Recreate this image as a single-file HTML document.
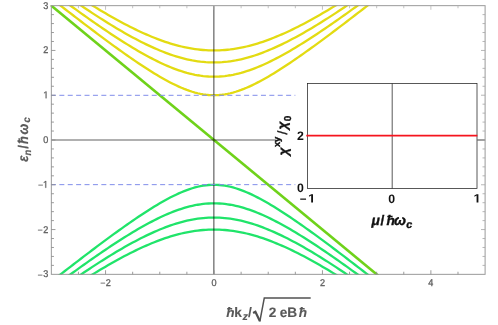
<!DOCTYPE html>
<html><head><meta charset="utf-8"><title>plot</title>
<style>
html,body{margin:0;padding:0;background:#fff;}
svg{display:block;}
text{font-family:"Liberation Sans",sans-serif;text-rendering:geometricPrecision;}
</style></head><body>
<svg width="498" height="325" viewBox="0 0 498 325">
<rect width="498" height="325" fill="#fff"/>
<defs><clipPath id="c"><rect x="50.44" y="5.16" width="435.56" height="269.78"/></clipPath></defs>

<g stroke="#626262" stroke-width="1.2" fill="none">
<line x1="213.85" y1="5.66" x2="213.85" y2="274.34"/>
<line x1="51.34" y1="140.0" x2="276" y2="140.0"/>
<line x1="477.3" y1="140.0" x2="485.10" y2="140.0"/>
</g>
<g clip-path="url(#c)" fill="none" stroke-linejoin="round" style="mix-blend-mode:multiply">
<path d="M40.50,-10.13 L43.21,-7.99 L45.92,-5.86 L48.63,-3.73 L51.34,-1.61 L54.05,0.52 L56.76,2.63 L59.47,4.75 L62.18,6.86 L64.89,8.97 L67.61,11.07 L70.32,13.17 L73.03,15.26 L75.74,17.34 L78.45,19.43 L81.16,21.50 L83.87,23.57 L86.58,25.64 L89.29,27.69 L92.00,29.74 L94.72,31.78 L97.43,33.82 L100.14,35.84 L102.85,37.86 L105.56,39.87 L108.27,41.87 L110.98,43.85 L113.69,45.83 L116.40,47.79 L119.11,49.74 L121.83,51.68 L124.54,53.60 L127.25,55.51 L129.96,57.40 L132.67,59.27 L135.38,61.12 L138.09,62.96 L140.80,64.77 L143.51,66.56 L146.22,68.32 L148.94,70.05 L151.65,71.76 L154.36,73.43 L157.07,75.07 L159.78,76.67 L162.49,78.23 L165.20,79.75 L167.91,81.23 L170.62,82.65 L173.33,84.02 L176.05,85.34 L178.76,86.59 L181.47,87.78 L184.18,88.89 L186.89,89.93 L189.60,90.89 L192.31,91.77 L195.02,92.56 L197.73,93.25 L200.44,93.84 L203.16,94.33 L205.87,94.72 L208.58,95.00 L211.29,95.16 L214.00,95.22 L216.71,95.16 L219.42,95.00 L222.13,94.72 L224.84,94.33 L227.55,93.84 L230.27,93.25 L232.98,92.56 L235.69,91.77 L238.40,90.89 L241.11,89.93 L243.82,88.89 L246.53,87.78 L249.24,86.59 L251.95,85.34 L254.66,84.03 L257.38,82.65 L260.09,81.23 L262.80,79.75 L265.51,78.23 L268.22,76.67 L270.93,75.07 L273.64,73.43 L276.35,71.76 L279.06,70.05 L281.77,68.32 L284.49,66.56 L287.20,64.77 L289.91,62.96 L292.62,61.12 L295.33,59.27 L298.04,57.40 L300.75,55.51 L303.46,53.60 L306.17,51.68 L308.88,49.74 L311.60,47.79 L314.31,45.83 L317.02,43.85 L319.73,41.87 L322.44,39.87 L325.15,37.86 L327.86,35.84 L330.57,33.82 L333.28,31.78 L335.99,29.74 L338.71,27.69 L341.42,25.64 L344.13,23.57 L346.84,21.50 L349.55,19.43 L352.26,17.34 L354.97,15.26 L357.68,13.17 L360.39,11.07 L363.10,8.97 L365.82,6.86 L368.53,4.75 L371.24,2.63 L373.95,0.52 L376.66,-1.61 L379.37,-3.73 L382.08,-5.86 L384.79,-7.99 L387.50,-10.13" stroke="#e3db12" stroke-width="2.3"/>
<path d="M40.50,-16.67 L43.21,-14.62 L45.92,-12.58 L48.63,-10.55 L51.34,-8.52 L54.05,-6.50 L56.76,-4.48 L59.47,-2.47 L62.18,-0.47 L64.89,1.53 L67.61,3.51 L70.32,5.49 L73.03,7.46 L75.74,9.43 L78.45,11.38 L81.16,13.32 L83.87,15.26 L86.58,17.18 L89.29,19.09 L92.00,21.00 L94.72,22.89 L97.43,24.76 L100.14,26.63 L102.85,28.48 L105.56,30.31 L108.27,32.13 L110.98,33.94 L113.69,35.72 L116.40,37.49 L119.11,39.24 L121.83,40.98 L124.54,42.69 L127.25,44.38 L129.96,46.04 L132.67,47.68 L135.38,49.30 L138.09,50.89 L140.80,52.45 L143.51,53.98 L146.22,55.48 L148.94,56.95 L151.65,58.38 L154.36,59.77 L157.07,61.12 L159.78,62.44 L162.49,63.71 L165.20,64.94 L167.91,66.11 L170.62,67.24 L173.33,68.32 L176.05,69.34 L178.76,70.30 L181.47,71.21 L184.18,72.05 L186.89,72.83 L189.60,73.54 L192.31,74.19 L195.02,74.76 L197.73,75.26 L200.44,75.69 L203.16,76.04 L205.87,76.32 L208.58,76.51 L211.29,76.63 L214.00,76.67 L216.71,76.63 L219.42,76.51 L222.13,76.32 L224.84,76.04 L227.55,75.69 L230.27,75.26 L232.98,74.76 L235.69,74.19 L238.40,73.54 L241.11,72.83 L243.82,72.05 L246.53,71.21 L249.24,70.30 L251.95,69.34 L254.66,68.32 L257.38,67.24 L260.09,66.11 L262.80,64.94 L265.51,63.71 L268.22,62.44 L270.93,61.12 L273.64,59.77 L276.35,58.38 L279.06,56.95 L281.77,55.48 L284.49,53.98 L287.20,52.45 L289.91,50.89 L292.62,49.30 L295.33,47.68 L298.04,46.04 L300.75,44.38 L303.46,42.69 L306.17,40.98 L308.88,39.25 L311.60,37.49 L314.31,35.72 L317.02,33.94 L319.73,32.13 L322.44,30.31 L325.15,28.48 L327.86,26.63 L330.57,24.76 L333.28,22.89 L335.99,21.00 L338.71,19.09 L341.42,17.18 L344.13,15.26 L346.84,13.32 L349.55,11.38 L352.26,9.43 L354.97,7.46 L357.68,5.49 L360.39,3.51 L363.10,1.53 L365.82,-0.47 L368.53,-2.47 L371.24,-4.48 L373.95,-6.50 L376.66,-8.52 L379.37,-10.55 L382.08,-12.58 L384.79,-14.62 L387.50,-16.67" stroke="#e3db12" stroke-width="2.3"/>
<path d="M40.50,-22.94 L43.21,-20.97 L45.92,-19.02 L48.63,-17.07 L51.34,-15.12 L54.05,-13.19 L56.76,-11.26 L59.47,-9.34 L62.18,-7.43 L64.89,-5.54 L67.61,-3.65 L70.32,-1.77 L73.03,0.10 L75.74,1.96 L78.45,3.81 L81.16,5.64 L83.87,7.46 L86.58,9.27 L89.29,11.07 L92.00,12.85 L94.72,14.62 L97.43,16.37 L100.14,18.10 L102.85,19.82 L105.56,21.52 L108.27,23.21 L110.98,24.87 L113.69,26.52 L116.40,28.14 L119.11,29.74 L121.83,31.32 L124.54,32.88 L127.25,34.41 L129.96,35.92 L132.67,37.40 L135.38,38.85 L138.09,40.27 L140.80,41.66 L143.51,43.02 L146.22,44.35 L148.94,45.64 L151.65,46.90 L154.36,48.12 L157.07,49.30 L159.78,50.44 L162.49,51.54 L165.20,52.59 L167.91,53.60 L170.62,54.57 L173.33,55.48 L176.05,56.34 L178.76,57.16 L181.47,57.92 L184.18,58.62 L186.89,59.27 L189.60,59.86 L192.31,60.40 L195.02,60.87 L197.73,61.28 L200.44,61.63 L203.16,61.92 L205.87,62.15 L208.58,62.31 L211.29,62.41 L214.00,62.44 L216.71,62.41 L219.42,62.31 L222.13,62.15 L224.84,61.92 L227.55,61.64 L230.27,61.28 L232.98,60.87 L235.69,60.40 L238.40,59.86 L241.11,59.27 L243.82,58.62 L246.53,57.92 L249.24,57.16 L251.95,56.34 L254.66,55.48 L257.38,54.57 L260.09,53.60 L262.80,52.59 L265.51,51.54 L268.22,50.44 L270.93,49.30 L273.64,48.12 L276.35,46.90 L279.06,45.64 L281.77,44.35 L284.49,43.02 L287.20,41.66 L289.91,40.27 L292.62,38.85 L295.33,37.40 L298.04,35.92 L300.75,34.41 L303.46,32.88 L306.17,31.32 L308.88,29.74 L311.60,28.14 L314.31,26.52 L317.02,24.87 L319.73,23.21 L322.44,21.52 L325.15,19.82 L327.86,18.10 L330.57,16.37 L333.28,14.62 L335.99,12.85 L338.71,11.07 L341.42,9.27 L344.13,7.46 L346.84,5.64 L349.55,3.81 L352.26,1.96 L354.97,0.10 L357.68,-1.77 L360.39,-3.65 L363.10,-5.53 L365.82,-7.43 L368.53,-9.34 L371.24,-11.26 L373.95,-13.19 L376.66,-15.12 L379.37,-17.07 L382.08,-19.02 L384.79,-20.97 L387.50,-22.94" stroke="#e3db12" stroke-width="2.3"/>
<path d="M40.50,-28.98 L43.21,-27.09 L45.92,-25.20 L48.63,-23.32 L51.34,-21.46 L54.05,-19.60 L56.76,-17.75 L59.47,-15.91 L62.18,-14.08 L64.89,-12.27 L67.61,-10.46 L70.32,-8.67 L73.03,-6.89 L75.74,-5.12 L78.45,-3.37 L81.16,-1.62 L83.87,0.10 L86.58,1.82 L89.29,3.51 L92.00,5.19 L94.72,6.86 L97.43,8.51 L100.14,10.14 L102.85,11.75 L105.56,13.34 L108.27,14.92 L110.98,16.47 L113.69,18.00 L116.40,19.51 L119.11,21.00 L121.83,22.46 L124.54,23.90 L127.25,25.31 L129.96,26.69 L132.67,28.05 L135.38,29.38 L138.09,30.68 L140.80,31.95 L143.51,33.18 L146.22,34.39 L148.94,35.56 L151.65,36.69 L154.36,37.79 L157.07,38.85 L159.78,39.87 L162.49,40.85 L165.20,41.79 L167.91,42.69 L170.62,43.54 L173.33,44.35 L176.05,45.11 L178.76,45.83 L181.47,46.50 L184.18,47.12 L186.89,47.68 L189.60,48.20 L192.31,48.67 L195.02,49.08 L197.73,49.44 L200.44,49.74 L203.16,49.99 L205.87,50.19 L208.58,50.33 L211.29,50.41 L214.00,50.44 L216.71,50.41 L219.42,50.33 L222.13,50.19 L224.84,49.99 L227.55,49.74 L230.27,49.44 L232.98,49.08 L235.69,48.67 L238.40,48.20 L241.11,47.68 L243.82,47.12 L246.53,46.50 L249.24,45.83 L251.95,45.11 L254.66,44.35 L257.38,43.54 L260.09,42.69 L262.80,41.79 L265.51,40.85 L268.22,39.87 L270.93,38.85 L273.64,37.79 L276.35,36.69 L279.06,35.56 L281.77,34.39 L284.49,33.18 L287.20,31.95 L289.91,30.68 L292.62,29.38 L295.33,28.05 L298.04,26.69 L300.75,25.31 L303.46,23.90 L306.17,22.46 L308.88,21.00 L311.60,19.51 L314.31,18.00 L317.02,16.47 L319.73,14.92 L322.44,13.34 L325.15,11.75 L327.86,10.14 L330.57,8.51 L333.28,6.86 L335.99,5.19 L338.71,3.51 L341.42,1.82 L344.13,0.10 L346.84,-1.62 L349.55,-3.37 L352.26,-5.12 L354.97,-6.89 L357.68,-8.67 L360.39,-10.46 L363.10,-12.27 L365.82,-14.08 L368.53,-15.91 L371.24,-17.75 L373.95,-19.60 L376.66,-21.46 L379.37,-23.32 L382.08,-25.20 L384.79,-27.09 L387.50,-28.98" stroke="#e3db12" stroke-width="2.3"/>
<path d="M40.50,290.13 L43.21,287.99 L45.92,285.86 L48.63,283.73 L51.34,281.61 L54.05,279.48 L56.76,277.37 L59.47,275.25 L62.18,273.14 L64.89,271.03 L67.61,268.93 L70.32,266.83 L73.03,264.74 L75.74,262.66 L78.45,260.57 L81.16,258.50 L83.87,256.43 L86.58,254.36 L89.29,252.31 L92.00,250.26 L94.72,248.22 L97.43,246.18 L100.14,244.16 L102.85,242.14 L105.56,240.13 L108.27,238.13 L110.98,236.15 L113.69,234.17 L116.40,232.21 L119.11,230.26 L121.83,228.32 L124.54,226.40 L127.25,224.49 L129.96,222.60 L132.67,220.73 L135.38,218.88 L138.09,217.04 L140.80,215.23 L143.51,213.44 L146.22,211.68 L148.94,209.95 L151.65,208.24 L154.36,206.57 L157.07,204.93 L159.78,203.33 L162.49,201.77 L165.20,200.25 L167.91,198.77 L170.62,197.35 L173.33,195.98 L176.05,194.66 L178.76,193.41 L181.47,192.22 L184.18,191.11 L186.89,190.07 L189.60,189.11 L192.31,188.23 L195.02,187.44 L197.73,186.75 L200.44,186.16 L203.16,185.67 L205.87,185.28 L208.58,185.00 L211.29,184.84 L214.00,184.78 L216.71,184.84 L219.42,185.00 L222.13,185.28 L224.84,185.67 L227.55,186.16 L230.27,186.75 L232.98,187.44 L235.69,188.23 L238.40,189.11 L241.11,190.07 L243.82,191.11 L246.53,192.22 L249.24,193.41 L251.95,194.66 L254.66,195.97 L257.38,197.35 L260.09,198.77 L262.80,200.25 L265.51,201.77 L268.22,203.33 L270.93,204.93 L273.64,206.57 L276.35,208.24 L279.06,209.95 L281.77,211.68 L284.49,213.44 L287.20,215.23 L289.91,217.04 L292.62,218.88 L295.33,220.73 L298.04,222.60 L300.75,224.49 L303.46,226.40 L306.17,228.32 L308.88,230.26 L311.60,232.21 L314.31,234.17 L317.02,236.15 L319.73,238.13 L322.44,240.13 L325.15,242.14 L327.86,244.16 L330.57,246.18 L333.28,248.22 L335.99,250.26 L338.71,252.31 L341.42,254.36 L344.13,256.43 L346.84,258.50 L349.55,260.57 L352.26,262.66 L354.97,264.74 L357.68,266.83 L360.39,268.93 L363.10,271.03 L365.82,273.14 L368.53,275.25 L371.24,277.37 L373.95,279.48 L376.66,281.61 L379.37,283.73 L382.08,285.86 L384.79,287.99 L387.50,290.13" stroke="#20e46a" stroke-width="2.3"/>
<path d="M40.50,296.67 L43.21,294.62 L45.92,292.58 L48.63,290.55 L51.34,288.52 L54.05,286.50 L56.76,284.48 L59.47,282.47 L62.18,280.47 L64.89,278.47 L67.61,276.49 L70.32,274.51 L73.03,272.54 L75.74,270.57 L78.45,268.62 L81.16,266.68 L83.87,264.74 L86.58,262.82 L89.29,260.91 L92.00,259.00 L94.72,257.11 L97.43,255.24 L100.14,253.37 L102.85,251.52 L105.56,249.69 L108.27,247.87 L110.98,246.06 L113.69,244.28 L116.40,242.51 L119.11,240.76 L121.83,239.02 L124.54,237.31 L127.25,235.62 L129.96,233.96 L132.67,232.32 L135.38,230.70 L138.09,229.11 L140.80,227.55 L143.51,226.02 L146.22,224.52 L148.94,223.05 L151.65,221.62 L154.36,220.23 L157.07,218.88 L159.78,217.56 L162.49,216.29 L165.20,215.06 L167.91,213.89 L170.62,212.76 L173.33,211.68 L176.05,210.66 L178.76,209.70 L181.47,208.79 L184.18,207.95 L186.89,207.17 L189.60,206.46 L192.31,205.81 L195.02,205.24 L197.73,204.74 L200.44,204.31 L203.16,203.96 L205.87,203.68 L208.58,203.49 L211.29,203.37 L214.00,203.33 L216.71,203.37 L219.42,203.49 L222.13,203.68 L224.84,203.96 L227.55,204.31 L230.27,204.74 L232.98,205.24 L235.69,205.81 L238.40,206.46 L241.11,207.17 L243.82,207.95 L246.53,208.79 L249.24,209.70 L251.95,210.66 L254.66,211.68 L257.38,212.76 L260.09,213.89 L262.80,215.06 L265.51,216.29 L268.22,217.56 L270.93,218.88 L273.64,220.23 L276.35,221.62 L279.06,223.05 L281.77,224.52 L284.49,226.02 L287.20,227.55 L289.91,229.11 L292.62,230.70 L295.33,232.32 L298.04,233.96 L300.75,235.62 L303.46,237.31 L306.17,239.02 L308.88,240.75 L311.60,242.51 L314.31,244.28 L317.02,246.06 L319.73,247.87 L322.44,249.69 L325.15,251.52 L327.86,253.37 L330.57,255.24 L333.28,257.11 L335.99,259.00 L338.71,260.91 L341.42,262.82 L344.13,264.74 L346.84,266.68 L349.55,268.62 L352.26,270.57 L354.97,272.54 L357.68,274.51 L360.39,276.49 L363.10,278.47 L365.82,280.47 L368.53,282.47 L371.24,284.48 L373.95,286.50 L376.66,288.52 L379.37,290.55 L382.08,292.58 L384.79,294.62 L387.50,296.67" stroke="#20e46a" stroke-width="2.3"/>
<path d="M40.50,302.94 L43.21,300.97 L45.92,299.02 L48.63,297.07 L51.34,295.12 L54.05,293.19 L56.76,291.26 L59.47,289.34 L62.18,287.43 L64.89,285.54 L67.61,283.65 L70.32,281.77 L73.03,279.90 L75.74,278.04 L78.45,276.19 L81.16,274.36 L83.87,272.54 L86.58,270.73 L89.29,268.93 L92.00,267.15 L94.72,265.38 L97.43,263.63 L100.14,261.90 L102.85,260.18 L105.56,258.48 L108.27,256.79 L110.98,255.13 L113.69,253.48 L116.40,251.86 L119.11,250.26 L121.83,248.68 L124.54,247.12 L127.25,245.59 L129.96,244.08 L132.67,242.60 L135.38,241.15 L138.09,239.73 L140.80,238.34 L143.51,236.98 L146.22,235.65 L148.94,234.36 L151.65,233.10 L154.36,231.88 L157.07,230.70 L159.78,229.56 L162.49,228.46 L165.20,227.41 L167.91,226.40 L170.62,225.43 L173.33,224.52 L176.05,223.66 L178.76,222.84 L181.47,222.08 L184.18,221.38 L186.89,220.73 L189.60,220.14 L192.31,219.60 L195.02,219.13 L197.73,218.72 L200.44,218.37 L203.16,218.08 L205.87,217.85 L208.58,217.69 L211.29,217.59 L214.00,217.56 L216.71,217.59 L219.42,217.69 L222.13,217.85 L224.84,218.08 L227.55,218.36 L230.27,218.72 L232.98,219.13 L235.69,219.60 L238.40,220.14 L241.11,220.73 L243.82,221.38 L246.53,222.08 L249.24,222.84 L251.95,223.66 L254.66,224.52 L257.38,225.43 L260.09,226.40 L262.80,227.41 L265.51,228.46 L268.22,229.56 L270.93,230.70 L273.64,231.88 L276.35,233.10 L279.06,234.36 L281.77,235.65 L284.49,236.98 L287.20,238.34 L289.91,239.73 L292.62,241.15 L295.33,242.60 L298.04,244.08 L300.75,245.59 L303.46,247.12 L306.17,248.68 L308.88,250.26 L311.60,251.86 L314.31,253.48 L317.02,255.13 L319.73,256.79 L322.44,258.48 L325.15,260.18 L327.86,261.90 L330.57,263.63 L333.28,265.38 L335.99,267.15 L338.71,268.93 L341.42,270.73 L344.13,272.54 L346.84,274.36 L349.55,276.19 L352.26,278.04 L354.97,279.90 L357.68,281.77 L360.39,283.65 L363.10,285.53 L365.82,287.43 L368.53,289.34 L371.24,291.26 L373.95,293.19 L376.66,295.12 L379.37,297.07 L382.08,299.02 L384.79,300.97 L387.50,302.94" stroke="#20e46a" stroke-width="2.3"/>
<path d="M40.50,308.98 L43.21,307.09 L45.92,305.20 L48.63,303.32 L51.34,301.46 L54.05,299.60 L56.76,297.75 L59.47,295.91 L62.18,294.08 L64.89,292.27 L67.61,290.46 L70.32,288.67 L73.03,286.89 L75.74,285.12 L78.45,283.37 L81.16,281.62 L83.87,279.90 L86.58,278.18 L89.29,276.49 L92.00,274.81 L94.72,273.14 L97.43,271.49 L100.14,269.86 L102.85,268.25 L105.56,266.66 L108.27,265.08 L110.98,263.53 L113.69,262.00 L116.40,260.49 L119.11,259.00 L121.83,257.54 L124.54,256.10 L127.25,254.69 L129.96,253.31 L132.67,251.95 L135.38,250.62 L138.09,249.32 L140.80,248.05 L143.51,246.82 L146.22,245.61 L148.94,244.44 L151.65,243.31 L154.36,242.21 L157.07,241.15 L159.78,240.13 L162.49,239.15 L165.20,238.21 L167.91,237.31 L170.62,236.46 L173.33,235.65 L176.05,234.89 L178.76,234.17 L181.47,233.50 L184.18,232.88 L186.89,232.32 L189.60,231.80 L192.31,231.33 L195.02,230.92 L197.73,230.56 L200.44,230.26 L203.16,230.01 L205.87,229.81 L208.58,229.67 L211.29,229.59 L214.00,229.56 L216.71,229.59 L219.42,229.67 L222.13,229.81 L224.84,230.01 L227.55,230.26 L230.27,230.56 L232.98,230.92 L235.69,231.33 L238.40,231.80 L241.11,232.32 L243.82,232.88 L246.53,233.50 L249.24,234.17 L251.95,234.89 L254.66,235.65 L257.38,236.46 L260.09,237.31 L262.80,238.21 L265.51,239.15 L268.22,240.13 L270.93,241.15 L273.64,242.21 L276.35,243.31 L279.06,244.44 L281.77,245.61 L284.49,246.82 L287.20,248.05 L289.91,249.32 L292.62,250.62 L295.33,251.95 L298.04,253.31 L300.75,254.69 L303.46,256.10 L306.17,257.54 L308.88,259.00 L311.60,260.49 L314.31,262.00 L317.02,263.53 L319.73,265.08 L322.44,266.66 L325.15,268.25 L327.86,269.86 L330.57,271.49 L333.28,273.14 L335.99,274.81 L338.71,276.49 L341.42,278.18 L344.13,279.90 L346.84,281.62 L349.55,283.37 L352.26,285.12 L354.97,286.89 L357.68,288.67 L360.39,290.46 L363.10,292.27 L365.82,294.08 L368.53,295.91 L371.24,297.75 L373.95,299.60 L376.66,301.46 L379.37,303.32 L382.08,305.20 L384.79,307.09 L387.50,308.98" stroke="#20e46a" stroke-width="2.3"/>
<path d="M45.92,1.18 L382.08,278.82" stroke="#6fd21a" stroke-width="2.6"/>
</g>
<g stroke="#808dea" stroke-width="1.0" stroke-dasharray="5 3.4" fill="none">
<line x1="50.94" y1="95.30" x2="295.33" y2="95.30"/>
<line x1="50.94" y1="184.65" x2="295.33" y2="184.65"/>
</g>
<g stroke="#9a9a9a" stroke-width="1" fill="none">
<rect x="51.34" y="5.66" width="433.76" height="268.68"/>
</g>
<path d="M78.45,274.34v-2.6 M105.56,274.34v-4.1 M132.67,274.34v-2.6 M159.78,274.34v-2.6 M186.89,274.34v-2.6 M214.00,274.34v-4.1 M241.11,274.34v-2.6 M268.22,274.34v-2.6 M295.33,274.34v-2.6 M322.44,274.34v-4.1 M349.55,274.34v-2.6 M376.66,274.34v-2.6 M403.77,274.34v-2.6 M430.88,274.34v-4.1 M457.99,274.34v-2.6 M51.34,265.38h2.6 M51.34,256.43h2.6 M51.34,247.47h2.6 M51.34,238.52h2.6 M51.34,229.56h4.1 M51.34,220.60h2.6 M51.34,211.65h2.6 M51.34,202.69h2.6 M51.34,193.74h2.6 M51.34,184.78h4.1 M51.34,175.82h2.6 M51.34,166.87h2.6 M51.34,157.91h2.6 M51.34,148.96h2.6 M51.34,140.00h4.1 M51.34,131.04h2.6 M51.34,122.09h2.6 M51.34,113.13h2.6 M51.34,104.18h2.6 M51.34,95.22h4.1 M51.34,86.26h2.6 M51.34,77.31h2.6 M51.34,68.35h2.6 M51.34,59.40h2.6 M51.34,50.44h4.1 M51.34,41.48h2.6 M51.34,32.53h2.6 M51.34,23.57h2.6 M51.34,14.62h2.6" stroke="#8a8a8a" stroke-width="0.85" fill="none"/>
<path d="M485.10,265.38h-2.6 M485.10,256.43h-2.6 M485.10,247.47h-2.6 M485.10,238.52h-2.6 M485.10,229.56h-4.1 M485.10,220.60h-2.6 M485.10,211.65h-2.6 M485.10,202.69h-2.6 M485.10,193.74h-2.6 M485.10,184.78h-4.1 M485.10,175.82h-2.6 M485.10,166.87h-2.6 M485.10,157.91h-2.6 M485.10,148.96h-2.6 M485.10,140.00h-4.1 M485.10,131.04h-2.6 M485.10,122.09h-2.6 M485.10,113.13h-2.6 M485.10,104.18h-2.6 M485.10,95.22h-4.1 M485.10,86.26h-2.6 M485.10,77.31h-2.6 M485.10,68.35h-2.6 M485.10,59.40h-2.6 M485.10,50.44h-4.1 M485.10,41.48h-2.6 M485.10,32.53h-2.6 M485.10,23.57h-2.6 M485.10,14.62h-2.6" stroke="#a4a4a4" stroke-width="0.8" fill="none"/>
<path d="M78.45,5.66v2.6 M105.56,5.66v4.1 M132.67,5.66v2.6 M159.78,5.66v2.6 M186.89,5.66v2.6 M214.00,5.66v4.1 M241.11,5.66v2.6 M268.22,5.66v2.6 M295.33,5.66v2.6 M322.44,5.66v4.1 M349.55,5.66v2.6 M376.66,5.66v2.6 M403.77,5.66v2.6 M430.88,5.66v4.1 M457.99,5.66v2.6" stroke="#b4b4b4" stroke-width="0.8" fill="none"/>
<g fill="#5e5e5e" font-size="9.8px" stroke="#5e5e5e" stroke-width="0.3">
<text transform="translate(48.44,277.39) scale(0.93,1)" text-anchor="end">3</text>
<text x="37.62" y="277.99" font-size="9.0px" stroke-width="0.1">−</text>
<text transform="translate(48.44,232.61) scale(0.93,1)" text-anchor="end">2</text>
<text x="37.62" y="233.21" font-size="9.0px" stroke-width="0.1">−</text>
<path transform="translate(42.86,187.83) scale(0.00479,-0.00479)" d="M515 0 V1237 L197 1010 V1180 L530 1409 H696 V0 Z" stroke-width="52"/>
<text x="37.97" y="188.43" font-size="9.0px" stroke-width="0.1">−</text>
<text transform="translate(48.44,143.05) scale(0.93,1)" text-anchor="end">0</text>
<path transform="translate(43.16,98.27) scale(0.00479,-0.00479)" d="M515 0 V1237 L197 1010 V1180 L530 1409 H696 V0 Z" stroke-width="52"/>
<text transform="translate(48.44,53.49) scale(0.93,1)" text-anchor="end">2</text>
<text transform="translate(48.44,8.71) scale(0.93,1)" text-anchor="end">3</text>
<text transform="translate(108.36,285.84) scale(0.93,1)" text-anchor="middle">2</text>
<text x="100.13" y="286.44" font-size="9.0px" stroke-width="0.1">−</text>
<text transform="translate(214.00,285.84) scale(0.93,1)" text-anchor="middle">0</text>
<text transform="translate(322.44,285.84) scale(0.93,1)" text-anchor="middle">2</text>
<text transform="translate(430.88,285.84) scale(0.93,1)" text-anchor="middle">4</text>
</g>
<g fill="#5a5a5a" stroke="#5a5a5a" stroke-width="0.2">
<text transform="translate(27.65,158.45) rotate(-90) scale(0.92,1)" x="-3.55" y="0" font-size="14.2px" font-weight="bold" font-style="italic">ε</text>
<text transform="translate(30.55,152.75) rotate(-90) scale(0.92,1)" x="-2.99" y="0" font-size="10.2px" font-weight="bold" font-style="italic">n</text>
<text transform="translate(27.65,147.00) rotate(-90) scale(0.92,1)" x="-1.94" y="0" font-size="14.0px" font-weight="bold">/</text>
<text transform="translate(27.65,140.20) rotate(-90) scale(0.92,1)" x="-4.13" y="0" font-size="14.2px" font-weight="bold" font-style="italic">ħ</text>
<text transform="translate(27.65,129.10) rotate(-90) scale(0.92,1)" x="-5.88" y="0" font-size="14.2px" font-weight="bold" font-style="italic">ω</text>
<text transform="translate(30.45,119.80) rotate(-90) scale(0.92,1)" x="-2.95" y="0" font-size="10.3px" font-weight="bold" font-style="italic">c</text>
</g>
<g fill="#585858" stroke="#585858" stroke-width="0.1">
<text transform="translate(230.15,316.80)" x="-3.99" y="0" font-size="13.7px" font-weight="bold" font-style="italic">ħ</text>
<text transform="translate(238.50,316.80)" x="-4.29" y="0" font-size="13.7px" font-weight="bold">k</text>
<text transform="translate(245.00,319.70)" x="-2.64" y="0" font-size="10.8px" font-weight="bold" font-style="italic">z</text>
<text transform="translate(249.90,316.80)" x="-1.90" y="0" font-size="13.7px" font-weight="bold">/</text>
<text transform="translate(272.40,316.80)" x="-3.77" y="0" font-size="13.7px" font-weight="bold">2</text>
<text transform="translate(283.55,316.80)" x="-3.84" y="0" font-size="13.7px" font-weight="bold">e</text>
<text transform="translate(292.45,316.80)" x="-5.09" y="0" font-size="13.7px" font-weight="bold">B</text>
<text transform="translate(302.80,316.80)" x="-3.99" y="0" font-size="13.7px" font-weight="bold" font-style="italic">ħ</text>
</g>
<path d="M253.1,313.0 l2.3,-1.3 l4.4,9.3" fill="none" stroke="#505050" stroke-width="2.2" stroke-linejoin="miter"/>
<path d="M259.8,321.6 L264.3,297.9 H310.7" fill="none" stroke="#525252" stroke-width="1.5" stroke-linejoin="miter"/>
<g stroke="#222" stroke-width="0.75" fill="none">
<rect x="307.5" y="83.5" width="169.50" height="105.00"/>
<line x1="392.2" y1="83.5" x2="392.2" y2="188.5"/>
</g>
<line x1="306.3" y1="135.7" x2="477.4" y2="135.7" stroke="#f5141e" stroke-width="1.8"/>
<g fill="#111" stroke="#111" stroke-width="0.35">
<g stroke="none">
<text transform="translate(300.25,140.00)" x="-3.39" y="0" font-size="12.3px" font-weight="bold">2</text>
<text transform="translate(300.50,192.25)" x="-3.41" y="0" font-size="12.3px" font-weight="bold">0</text>
<text transform="translate(303.10,203.05)" x="-3.39" y="0" font-size="11.6px" font-weight="bold">−</text>
<path transform="translate(308.08,202.60) scale(0.00649,-0.00601)" d="M478 0 V1170 L140 959 V1180 L493 1409 H759 V0 Z" stroke-width="42"/>
<text transform="translate(391.75,202.50)" x="-3.41" y="0" font-size="12.3px" font-weight="bold">0</text>
<path transform="translate(473.48,202.60) scale(0.00649,-0.00601)" d="M478 0 V1170 L140 959 V1180 L493 1409 H759 V0 Z" stroke-width="42"/>
</g>
<text transform="translate(375.50,225.10)" x="-3.91" y="0" font-size="13.8px" font-weight="bold" font-style="italic">μ</text>
<text transform="translate(382.40,225.10)" x="-1.92" y="0" font-size="13.8px" font-weight="bold">/</text>
<text transform="translate(390.45,225.10)" x="-4.02" y="0" font-size="13.8px" font-weight="bold" font-style="italic">ħ</text>
<text transform="translate(399.90,225.10)" x="-5.96" y="0" font-size="14.4px" font-weight="bold" font-style="italic">ω</text>
<text transform="translate(409.45,228.20)" x="-3.09" y="0" font-size="10.8px" font-weight="bold" font-style="italic">c</text>
<text transform="translate(287.60,152.00) rotate(-90)" x="-3.51" y="0" font-size="13.7px" font-weight="bold" font-style="italic">χ</text>
<text transform="translate(280.20,141.90) rotate(-90)" x="-5.23" y="0" font-size="9.4px" font-weight="bold">xy</text>
<text transform="translate(287.40,132.65) rotate(-90)" x="-1.85" y="0" font-size="13.3px">/</text>
<text transform="translate(287.30,125.90) rotate(-90)" x="-3.51" y="0" font-size="13.7px" font-weight="bold" font-style="italic">χ</text>
<text transform="translate(290.60,118.50) rotate(-90)" x="-2.77" y="0" font-size="10.0px" font-weight="bold">0</text>
</g>
</svg></body></html>
